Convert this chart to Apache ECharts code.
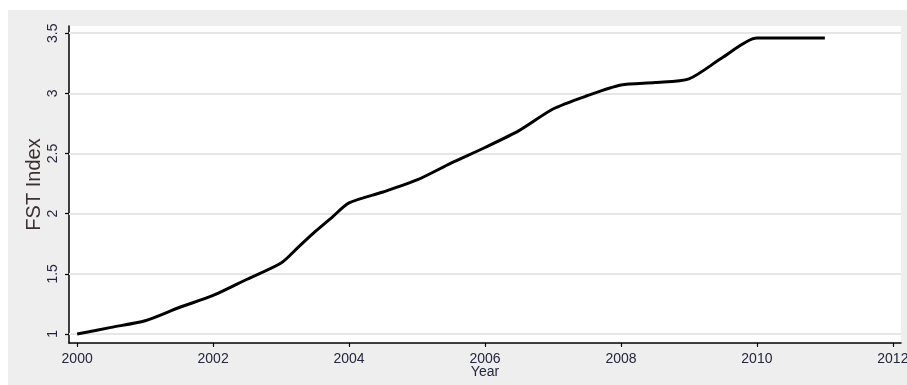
<!DOCTYPE html>
<html>
<head>
<meta charset="utf-8">
<script src="https://cdn.jsdelivr.net/npm/echarts@6/dist/echarts.min.js"></script>
<style>
  html, body { margin: 0; padding: 0; background: #ffffff; }
  #wrap { position: relative; width: 907px; height: 385px; }
  #panel { position: absolute; left: 8px; top: 10px; width: 899px; height: 375px; background: #eeeeee; }
  #chart { position: absolute; left: 0; top: 0; width: 907px; height: 385px; }
</style>
</head>
<body>
<div id="wrap">
  <div id="panel"></div>
  <div id="chart"></div>
</div>
<script>
// FST index by year (half-year readings)
const years = [2000, 2000.5, 2001, 2001.5, 2002, 2002.5, 2003, 2003.25, 2003.5, 2003.75,
               2004, 2004.5, 2005, 2005.5, 2006, 2006.5, 2007, 2007.5, 2008, 2008.5,
               2009, 2009.5, 2010, 2011];
const fstIndex = [1.00, 1.055, 1.11, 1.22, 1.32, 1.455, 1.59, 1.72, 1.85, 1.97,
                  2.09, 2.18, 2.28, 2.42, 2.55, 2.69, 2.87, 2.98, 3.07, 3.09,
                  3.12, 3.30, 3.46, 3.46];

// Axis tick labels
const xTicks = [2000, 2002, 2004, 2006, 2008, 2010, 2012];
const yTicks = [1, 1.5, 2, 2.5, 3, 3.5];

const labelFont = "'Liberation Sans', Arial, sans-serif";
const labelColor = '#25253d';

const chart = echarts.init(document.getElementById('chart'), null, { renderer: 'canvas' });
chart.setOption({
  backgroundColor: 'transparent',
  animation: false,
  grid: {
    left: 69, right: 6, top: 26, bottom: 42,
    outerBoundsMode: 'none',
    containLabel: false,
    show: true, backgroundColor: '#ffffff', borderWidth: 0
  },
  xAxis: {
    type: 'value',
    min: 1999.88, max: 2012.12,
    name: 'Year',
    nameLocation: 'middle',
    nameGap: 22,
    nameMoveOverlap: false,
    nameTextStyle: { fontFamily: labelFont, fontSize: 14, color: labelColor },
    axisLine: { show: true, onZero: false, lineStyle: { color: '#000', width: 1.5 } },
    axisTick: { show: true, length: 4, customValues: xTicks, lineStyle: { color: '#000', width: 1.2 } },
    axisLabel: {
      customValues: xTicks, margin: 9,
      fontFamily: labelFont, fontSize: 14, color: labelColor,
      formatter: v => String(Math.round(v))
    },
    splitLine: { show: false }
  },
  yAxis: {
    type: 'value',
    min: 0.925, max: 3.56,
    name: 'FST Index',
    nameLocation: 'middle',
    nameGap: 25,
    nameMoveOverlap: false,
    nameRotate: 90,
    nameTextStyle: { fontFamily: labelFont, fontSize: 20, color: '#3a3030' },
    axisLine: { show: true, onZero: false, lineStyle: { color: '#000', width: 1.5 } },
    axisTick: { show: true, length: 4, customValues: yTicks, lineStyle: { color: '#000', width: 1.2 } },
    axisLabel: {
      customValues: yTicks, rotate: 90, margin: 9,
      fontFamily: labelFont, fontSize: 14, color: labelColor,
      formatter: v => String(v)
    },
    splitLine: { show: false }
  },
  series: [{
    type: 'line',
    data: years.map((y, i) => [y, fstIndex[i]]),
    showSymbol: false,
    smooth: 0.25,
    lineStyle: { color: '#000', width: 3 },
    markLine: {
      silent: true,
      symbol: 'none',
      label: { show: false },
      lineStyle: { color: '#e6e6e6', width: 2, type: 'solid' },
      data: yTicks.map(v => ({ yAxis: v })),
      z: 1
    },
    z: 3
  }]
});
</script>
</body>
</html>
